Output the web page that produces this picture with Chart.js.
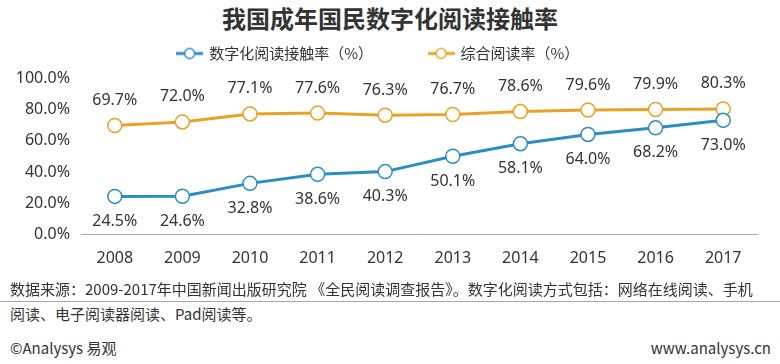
<!DOCTYPE html>
<html>
<head>
<meta charset="utf-8">
<script src="https://cdn.jsdelivr.net/npm/chart.js@4/dist/chart.umd.min.js"></script>
<style>
  body { margin: 0; background: #fff; }
  #wrap { position: relative; width: 780px; height: 364px; overflow: hidden; font-family: "Noto Sans CJK SC", sans-serif; color: #333; }
  #title { position: absolute; left: 0; top: 0; width: 780px; text-align: center; font-size: 24px; font-weight: bold; color: #333; }
  #chartBox { position: absolute; left: 0; top: -10px; width: 780px; height: 292px; }
  .foot { position: absolute; left: 10px; font-size: 15px; color: #333; white-space: nowrap; }
  #sep { position: absolute; left: 0; top: 301px; width: 780px; height: 1px; background: #a6a6a6; }
</style>
</head>
<body>
<div id="wrap">
  <div id="title">我国成年国民数字化阅读接触率</div>
  <div id="chartBox"><canvas id="myChart"></canvas></div>
  <div class="foot" style="top:278px">数据来源：2009-2017年中国新闻出版研究院 《全民阅读调查报告》。数字化阅读方式包括：网络在线阅读、手机</div>
  <div id="sep"></div>
  <div class="foot" style="top:303px">阅读、电子阅读器阅读、Pad阅读等。</div>
  <div class="foot" style="top:337px">©Analysys 易观</div>
  <div class="foot" style="top:337px; left:auto; right:9px">www.analysys.cn</div>
</div>
<script>
"use strict";

const years = ["2008", "2009", "2010", "2011", "2012", "2013", "2014", "2015", "2016", "2017"];
const digitalRate = [24.5, 24.6, 32.8, 38.6, 40.3, 50.1, 58.1, 64.0, 68.2, 73.0];
const overallRate = [69.7, 72.0, 77.1, 77.6, 76.3, 76.7, 78.6, 79.6, 79.9, 80.3];
const yTicks = [0, 20, 40, 60, 80, 100];

const blue = "#2b8dc4";
const orange = "#e9a224";

// legend marker: short line with a hollow circle
function marker(color) {
    const c = document.createElement("canvas");
    c.width = 27; c.height = 14;
    const g = c.getContext("2d");
    g.strokeStyle = color;
    g.lineWidth = 3;
    g.beginPath(); g.moveTo(0, 7); g.lineTo(27, 7); g.stroke();
    g.fillStyle = "#fff";
    g.lineWidth = 1.5;
    g.beginPath(); g.arc(13.5, 7, 5, 0, Math.PI * 2); g.fill(); g.stroke();
    return c;
}

// value labels: orange above, blue below
const valueLabels = {
    id: "valueLabels",
    afterDatasetsDraw(chart) {
        const ctx = chart.ctx;
        ctx.save();
        ctx.font = "16px 'Noto Sans', sans-serif";
        ctx.fillStyle = "#333";
        ctx.textAlign = "center";
        ctx.textBaseline = "middle";
        chart.data.datasets.forEach((ds, i) => {
            const meta = chart.getDatasetMeta(i);
            meta.data.forEach((pt, j) => {
                const dy = i === 0 ? 25 : -25;
                ctx.fillText(ds.data[j].toFixed(1) + "%", pt.x, pt.y + dy);
            });
        });
        ctx.restore();
    }
};

// extra space between legend and plot
const legendGap = {
    id: "legendGap",
    beforeInit(chart) {
        const fit = chart.legend.fit;
        chart.legend.fit = function() {
            fit.bind(chart.legend)();
            this.height += 7;
        };
    }
};

const config = {
    type: "line",
    data: {
        labels: years,
        datasets: [
            {
                label: "数字化阅读接触率（%）",
                data: digitalRate,
                borderColor: blue,
                borderWidth: 3,
                pointRadius: 7,
                pointBorderWidth: 1.5,
                pointBackgroundColor: "#fff",
                pointBorderColor: blue,
                tension: 0
            },
            {
                label: "综合阅读率（%）",
                data: overallRate,
                borderColor: orange,
                borderWidth: 3,
                pointRadius: 7,
                pointBorderWidth: 1.5,
                pointBackgroundColor: "#fff",
                pointBorderColor: orange,
                tension: 0
            }
        ]
    },
    options: {
        responsive: true,
        maintainAspectRatio: false,
        animation: false,
        layout: { padding: { left: 0, right: 23, top: 0, bottom: 0 } },
        plugins: {
            legend: {
                position: "top",
                labels: {
                    usePointStyle: true,
                    pointStyleWidth: 24,
                    color: "#333",
                    font: { size: 15, family: "'Noto Sans CJK SC', sans-serif" },
                    padding: 56,
                    generateLabels(chart) {
                        return chart.data.datasets.map((ds, i) => ({
                            text: ds.label,
                            pointStyle: marker(ds.borderColor),
                            fontColor: "#333",
                            strokeStyle: ds.borderColor,
                            fillStyle: "#fff",
                            lineWidth: 0,
                            datasetIndex: i,
                            hidden: false
                        }));
                    }
                }
            },
            tooltip: { enabled: false }
        },
        scales: {
            x: {
                offset: true,
                grid: { display: false, drawTicks: false },
                border: { display: true, color: "#a6a6a6", width: 1 },
                ticks: { color: "#333", font: { size: 16, family: "'Noto Sans', sans-serif" }, padding: 14 }
            },
            y: {
                min: 0,
                max: 100,
                afterBuildTicks(scale) { scale.ticks = yTicks.map(v => ({ value: v })); },
                afterFit(scale) { scale.width = 81; },
                grid: { display: false, drawTicks: false },
                border: { display: false },
                ticks: {
                    color: "#333",
                    font: { size: 16, family: "'Noto Sans', sans-serif" },
                    padding: 11,
                    callback: v => v.toFixed(1) + "%"
                }
            }
        }
    },
    plugins: [valueLabels, legendGap]
};

new Chart(document.getElementById("myChart").getContext("2d"), config);
</script>
</body>
</html>
